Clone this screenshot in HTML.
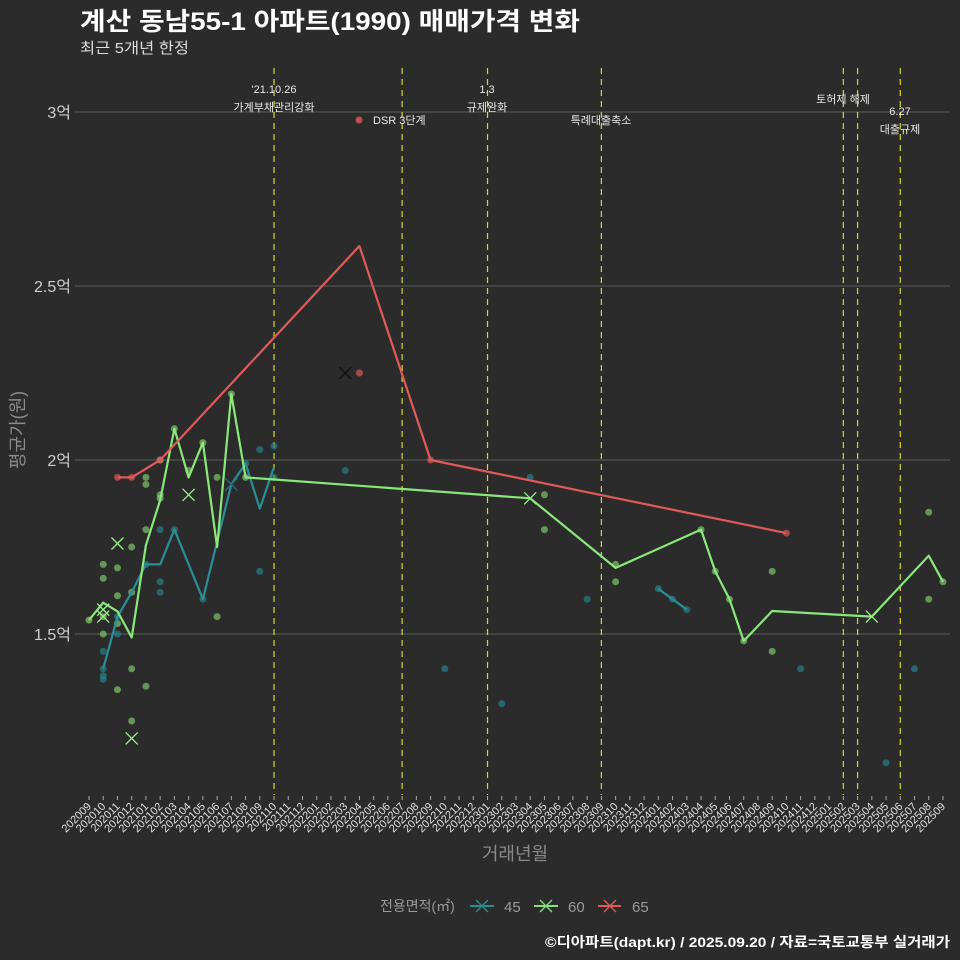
<!DOCTYPE html>
<html><head><meta charset="utf-8">
<style>
body{margin:0;background:#2b2b2b;}
svg{display:block;font-family:"Liberation Sans","Noto Sans CJK KR",sans-serif;}
</style></head>
<body>
<svg id="chart" width="960" height="960" viewBox="0 0 960 960">
<rect width="960" height="960" fill="#2b2b2b"/>
<text x="80" y="30" fill="#ffffff" font-size="25" font-weight="bold" textLength="500" lengthAdjust="spacingAndGlyphs">계산 동남55-1 아파트(1990) 매매가격 변화</text>
<text x="80" y="53" fill="#dddddd" font-size="15" textLength="109" lengthAdjust="spacingAndGlyphs">최근 5개년 한정</text>
<g id="grid"></g>
<g id="vlines"></g>
<g id="marks"></g>
<g id="xaxis"></g>
<text transform="translate(24,430) rotate(-90)" text-anchor="middle" fill="#8a8a8a" font-size="18">평균가(원)</text>
<text x="515" y="860" text-anchor="middle" fill="#8a8a8a" font-size="18">거래년월</text>
<g>
<text x="380" y="911" fill="#9a9a9a" font-size="14">전용면적(㎡)</text>
<g><line x1="470" y1="906" x2="494" y2="906" stroke="#2a8a8c" stroke-width="2"/><path d="M476 900 L488 912 M488 900 L476 912" stroke="#2a8a8c" stroke-width="1.3"/><text x="504" y="912" fill="#9a9a9a" font-size="15">45</text></g>
<g><line x1="534" y1="906" x2="558" y2="906" stroke="#86e07a" stroke-width="2"/><path d="M540 900 L552 912 M552 900 L540 912" stroke="#86e07a" stroke-width="1.3"/><text x="568" y="912" fill="#9a9a9a" font-size="15">60</text></g>
<g><line x1="598" y1="906" x2="621" y2="906" stroke="#e05a5a" stroke-width="2"/><path d="M604 900 L616 912 M616 900 L604 912" stroke="#e05a5a" stroke-width="1.3"/><text x="632" y="912" fill="#9a9a9a" font-size="15">65</text></g>
</g>
<text x="950" y="947" text-anchor="end" fill="#ffffff" font-size="14" font-weight="bold" textLength="405" lengthAdjust="spacingAndGlyphs">©디아파트(dapt.kr) / 2025.09.20 / 자료=국토교통부 실거래가</text>
</svg>
<script>
const months=[];for(let y=2020,m=9;!(y===2025&&m===10);){months.push(''+y+(m<10?'0':'')+m);m++;if(m>12){m=1;y++;}}
const yTicks=[1.5,2,2.5,3];
const yTickLabels=['1.5억','2억','2.5억','3억'];
// line series (month, value in 억)
const line45a=[['202010',1.40],['202011',1.55],['202012',1.62],['202101',1.70],['202102',1.70],['202103',1.80],['202105',1.60],['202107',1.93],['202108',1.99],['202109',1.86],['202110',1.98]];
const line45b=[['202401',1.63],['202402',1.60],['202403',1.57]];
const line60=[['202009',1.54],['202010',1.59],['202011',1.565],['202012',1.49],['202101',1.755],['202102',1.885],['202103',2.09],['202104',1.95],['202105',2.05],['202106',1.75],['202107',2.19],['202108',1.95],['202304',1.89],['202310',1.69],['202404',1.80],['202405',1.68],['202406',1.60],['202407',1.48],['202409',1.566],['202504',1.55],['202508',1.725],['202509',1.65]];
const line65=[['202011',1.95],['202012',1.95],['202102',2.0],['202204',2.615],['202209',2.0],['202410',1.79]];
// scatter points
const pts45=[['202010',1.45],['202010',1.38],['202010',1.37],['202010',1.40],['202011',1.55],['202011',1.50],['202101',1.70],['202102',1.80],['202102',1.65],['202102',1.62],['202103',1.80],['202105',1.60],['202108',1.99],['202109',2.03],['202109',1.68],['202110',2.04],['202110',1.95],['202203',1.97],['202210',1.40],['202302',1.30],['202304',1.95],['202308',1.60],['202401',1.63],['202402',1.60],['202403',1.57],['202411',1.40],['202505',1.13],['202507',1.40]];
const pts60=[['202009',1.54],['202010',1.70],['202010',1.66],['202010',1.55],['202010',1.50],['202011',1.69],['202011',1.61],['202011',1.34],['202011',1.53],['202012',1.75],['202012',1.62],['202012',1.40],['202012',1.25],['202101',1.95],['202101',1.93],['202101',1.80],['202101',1.35],['202102',2.00],['202102',1.90],['202102',1.89],['202103',2.09],['202104',1.97],['202105',2.05],['202106',1.95],['202106',1.55],['202107',2.19],['202108',1.95],['202305',1.90],['202305',1.80],['202310',1.70],['202310',1.65],['202404',1.80],['202405',1.68],['202406',1.60],['202407',1.48],['202409',1.68],['202409',1.45],['202508',1.85],['202508',1.60],['202509',1.65]];
const pts65=[['202011',1.95],['202012',1.95],['202102',2.0],['202204',2.25],['202209',2.0],['202410',1.79]];
const x45=[['202107',1.93]];
const x60=[['202010',1.57],['202010',1.55],['202011',1.76],['202012',1.20],['202104',1.90],['202304',1.89],['202504',1.55]];
const x65=[['202203',2.25]];
const eventMonths=['202110','202207','202301','202309','202502','202503','202506'];

const NS='http://www.w3.org/2000/svg';
const X=m=>89+months.indexOf(m)*14.233;
const Y=v=>460-(v-2)*348;
function el(tag,attrs,parent){const e=document.createElementNS(NS,tag);for(const k in attrs)e.setAttribute(k,attrs[k]);parent.appendChild(e);return e;}
const grid=document.getElementById('grid'),vl=document.getElementById('vlines'),mk=document.getElementById('marks'),xa=document.getElementById('xaxis');
yTicks.forEach((t,i)=>{
 const l=el('line',{x1:75,x2:950,y1:Y(t),y2:Y(t),stroke:'#5e5e5e','stroke-width':1},grid);
 
 
 const tx=el('text',{x:71,y:Y(t)+6,'text-anchor':'end',fill:'#cfcfcf','font-size':16},grid);
 tx.textContent=yTickLabels[i];
 
 
});
eventMonths.forEach(m=>{
 const l=el('line',{x1:X(m),x2:X(m),y1:68,y2:795,stroke:'#d8d820','stroke-width':1.2,'stroke-dasharray':'6,5'},vl);
 
 
});
const notes=[[274,93,"'21.10.26"],[274,111,'가계부채관리강화'],[487,93,'1.3'],[487,111,'규제완화'],[601,124,'특례대출축소'],[843,103,'토허제 해제'],[900,115,'6.27'],[900,133,'대출규제']];
notes.forEach(n=>{const t=el('text',{x:n[0],y:n[1],'text-anchor':'middle',fill:'#e8e8e8','font-size':11},vl);t.textContent=n[2];
 
 });
const dd=el('circle',{cx:359,cy:120,r:3.5,fill:'#c0504d'},vl);


const dt=el('text',{x:373,y:124,fill:'#e8e8e8','font-size':11},vl);dt.textContent='DSR 3단계';


months.forEach(m=>{
 const x=X(m);
 const tk=el('line',{x1:x,x2:x,y1:796,y2:800,stroke:'#aaaaaa'},xa);
 
 
 const t=el('text',{x:0,y:0,'text-anchor':'end',fill:'#e0e0e0','font-size':11,transform:`translate(${x+3},${807}) rotate(-45)`},xa);
 t.textContent=m;
 
 
});
function drawPts(arr,col,name){arr.forEach(p=>{const c=el('circle',{cx:X(p[0]),cy:Y(p[1]),r:3.5,fill:col,'fill-opacity':0.65},mk);
 
 });}
function drawLine(arr,col,name){const d=arr.map((p,i)=>(i?'L':'M')+X(p[0]).toFixed(1)+' '+Y(p[1]).toFixed(1)).join(' ');
 const l=el('path',{d:d,fill:'none',stroke:col,'stroke-width':2.2,'stroke-linejoin':'round'},mk);
 
 }
function drawX(arr,col,name){arr.forEach(p=>{const x=X(p[0]),y=Y(p[1]);const c=el('path',{d:`M${x-6} ${y-6} L${x+6} ${y+6} M${x+6} ${y-6} L${x-6} ${y+6}`,stroke:col,'stroke-width':1.3},mk);
 
 });}
drawPts(pts45,'#25858e','point-45');
drawPts(pts60,'#86d06e','point-60');
drawPts(pts65,'#e05a5a','point-65');
drawLine(line45a,'#2a8f95','line-45');
drawLine(line45b,'#2a8f95','line-45');
drawLine(line60,'#8ae87a','line-60');
drawLine(line65,'#e05a5a','line-65');
drawX(x45,'#1e6f78','cross-45');
drawX(x60,'#9af08a','cross-60');
drawX(x65,'#111111','cross-65');
</script>
</body></html>
